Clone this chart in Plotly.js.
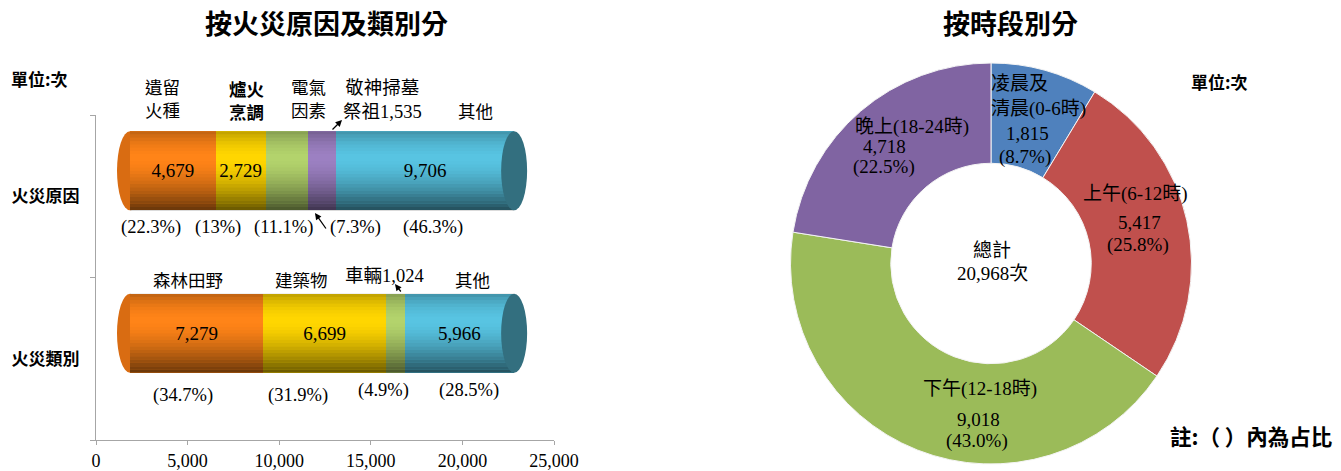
<!DOCTYPE html>
<html><head><meta charset="utf-8">
<script src="https://cdn.plot.ly/plotly-3.0.1.min.js"></script>
<style>html,body{margin:0;padding:0;background:#fff;}#chart{width:1341px;height:471px;}</style>
</head><body><div id="chart"></div>
<script>
// ---------- data ----------
const rowNames = ['火災類別', '火災原因'];
const reasonNames = ['遺留火種', '爐火烹調', '電氣因素', '敬神掃墓祭祖', '其他'];
const reasonValues = [4679, 2729, 2319, 1535, 9706];
const reasonPct = [22.3, 13, 11.1, 7.3, 46.3];
const typeNames = ['森林田野', '建築物', '車輛', '其他'];
const typeValues = [7279, 6699, 1024, 5966];
const typePct = [34.7, 31.9, 4.9, 28.5];
const periodNames = ['凌晨及清晨(0-6時)', '上午(6-12時)', '下午(12-18時)', '晚上(18-24時)'];
const periodValues = [1815, 5417, 9018, 4718];
const periodPct = [8.7, 25.8, 43.0, 22.5];
const xTicks = [0, 5000, 10000, 15000, 20000, 25000];

// ---------- styles ----------
const W = 1341, H = 471;
const PX = x => x / W, PY = y => 1 - y / H;
const SERIF = 'Liberation Serif, Noto Sans CJK TC, serif';
const CJK = 'Noto Sans CJK TC, sans-serif';
const reasonColors = ['#FF8418', '#FFD600', '#B3D36C', '#9C80C2', '#58C4E2'];
const typeColors = ['#FF8418', '#FFD600', '#B3D36C', '#58C4E2'];
const pieColors = ['#4F81BD', '#C0504D', '#9BBB59', '#8064A2'];
const fmt = v => v.toLocaleString('en-US');
const sum = a => a.reduce((s, v) => s + v, 0);

const plotX0 = 96, plotX1 = 554, plotY0 = 115, plotY1 = 440;
const depthPx = 34, liftPx = 25.5;           // 3-D offset of the cylinders
const unitPx = (plotX1 - plotX0) / 25000;
const catPx = (plotY1 - plotY0) / 2;

const traces = [];
// empty trace keeps the visible category/value axes alive
traces.push({type: 'scatter', mode: 'markers', x: [], y: [], xaxis: 'x', yaxis: 'y',
  hoverinfo: 'skip', showlegend: false});

function addSegments(names, values, colors, row) {
  names.forEach((n, i) => {
    traces.push({
      type: 'bar', orientation: 'h', xaxis: 'x2', yaxis: 'y2',
      y: [row], x: [values[i]], name: n, width: 0.486,
      marker: {color: colors[i], line: {width: 0}},
      text: [values[i] > 2500 ? fmt(values[i]) : ''],
      textposition: 'inside', insidetextanchor: 'middle',
      textfont: {family: SERIF, size: 19, color: '#000'},
      constraintext: 'none', hoverinfo: 'skip', showlegend: false
    });
  });
}
addSegments(reasonNames, reasonValues, reasonColors, '火災原因');
addSegments(typeNames, typeValues, typeColors, '火災類別');

traces.push({
  type: 'pie', labels: periodNames, values: periodValues, sort: false,
  direction: 'clockwise', rotation: 0, hole: 0.5,
  marker: {colors: pieColors, line: {color: '#f4f4f4', width: 1}},
  textinfo: 'none', hoverinfo: 'skip', showlegend: false,
  domain: {x: [PX(790), PX(1192)], y: [PY(464), PY(63)]}
});

// ---------- cylinder shading ----------
const shapes = [];
const nBands = 24;
const shade = t => t < 0.35 ? 0.26 * Math.pow(1 - t / 0.35, 2) : 0.6 * Math.pow((t - 0.35) / 0.65, 1.6);
function cylinder(rowIdx, total, leftColor) {
  const half = 0.243, capHalf = 13 / unitPx;
  shapes.push({type: 'circle', xref: 'x2', yref: 'y2', layer: 'below',
    x0: -capHalf, x1: capHalf, y0: rowIdx - half, y1: rowIdx + half,
    fillcolor: leftColor, line: {width: 0}});
  for (let k = 0; k < nBands; k++) {
    const op = shade((k + 0.5) / nBands);
    const yTop = rowIdx + half - (2 * half) * k / nBands;
    const yBot = rowIdx + half - (2 * half) * (k + 1) / nBands;
    if (op > 0.005) shapes.push({type: 'rect', xref: 'x2', yref: 'y2', layer: 'above',
      x0: 0, x1: total, y0: yBot, y1: yTop,
      fillcolor: 'rgba(0,0,0,' + op.toFixed(3) + ')', line: {width: 0}});
  }
  shapes.push({type: 'circle', xref: 'x2', yref: 'y2', layer: 'above',
    x0: total - capHalf, x1: total + capHalf, y0: rowIdx - half, y1: rowIdx + half,
    fillcolor: '#336F7F', line: {width: 0}});
}
cylinder(1, sum(reasonValues), '#D96C12');
cylinder(0, sum(typeValues), '#D96C12');

// ---------- annotations ----------
const ann = [];
function txt(text, x, y, o) {
  o = o || {};
  ann.push(Object.assign({xref: 'paper', yref: 'paper', x: PX(x), y: PY(y), text: text,
    showarrow: false, xanchor: 'center', yanchor: 'middle',
    font: {family: SERIF, size: 18.5, color: '#000'}}, o));
}
function arrow(hx, hy, tx, ty) {
  ann.push({xref: 'paper', yref: 'paper', x: PX(hx), y: PY(hy), ax: tx - hx, ay: ty - hy, text: '',
    showarrow: true, arrowhead: 2, arrowsize: 1, arrowwidth: 1.3, arrowcolor: '#000', standoff: 0, startstandoff: 0});
}
const cjkFont = {family: SERIF, size: 17.5, color: '#000'};
const cjkBold = {family: CJK, size: 17.5, color: '#000', weight: 'bold'};
const serifFont = {family: SERIF, size: 18.5, color: '#000'};

// titles & notes
txt('按火災原因及類別分', 326, 23, {font: {family: CJK, size: 27, weight: 'bold', color: '#000'}});
txt('按時段別分', 1010, 23, {font: {family: CJK, size: 27, weight: 'bold', color: '#000'}});
txt('單位:次', 9, 79, {xanchor: 'left', font: {family: CJK, size: 17, weight: 'bold', color: '#000'}});
txt('單位:次', 1189, 82, {xanchor: 'left', font: {family: CJK, size: 17, weight: 'bold', color: '#000'}});
txt('註:（ ）內為占比', 1334, 435, {xanchor: 'right', font: {family: CJK, size: 21.5, weight: 'bold', color: '#000'}});

// reason labels (two lines above the bar)
const rTopX = [162, 246, 308, 382, 475];
const rLines = [['遺留', '火種'], ['爐火', '烹調'], ['電氣', '因素'], ['敬神掃墓', '祭祖' + fmt(reasonValues[3])], [reasonNames[4]]];
rLines.forEach((l, i) => {
  if (l.length === 2) txt(l.join('<br>'), rTopX[i], 100, {font: i === 1 ? cjkBold : (i === 3 ? serifFont : cjkFont)});
  else txt(l[0], rTopX[i], 112, {font: cjkFont});
});
const rPctX = [151, 218, 283, 355, 433];
reasonPct.forEach((p, i) => txt('(' + p + '%)', rPctX[i], 227));
arrow(342, 120, 331, 131);
arrow(315, 213, 327, 230);

// type labels
const tTopX = [188, 301, 384, 472], tTopY = [281, 281, 276, 281];
typeNames.forEach((n, i) => txt(n + (typeValues[i] < 2500 ? fmt(typeValues[i]) : ''), tTopX[i], tTopY[i],
  {font: typeValues[i] < 2500 ? serifFont : cjkFont}));
const tPctX = [183, 298, 383, 469], tPctY = [395, 395, 390, 390];
typePct.forEach((p, i) => txt('(' + p + '%)', tPctX[i], tPctY[i]));
arrow(395, 284, 402, 293);

// pie labels
const pf = {family: SERIF, size: 19, color: '#000'};
const pct1 = p => '(' + p.toFixed(1) + '%)';
txt('凌晨及', 989, 84, {xanchor: 'left', font: pf});
txt('清晨(0-6時)', 989, 109, {xanchor: 'left', font: pf});
txt(fmt(periodValues[0]), 1027, 134, {font: pf});
txt(pct1(periodPct[0]), 1025, 157, {font: pf});
txt(periodNames[1], 1135, 194, {font: pf});
txt(fmt(periodValues[1]), 1139, 222, {font: pf});
txt(pct1(periodPct[1]), 1138, 245, {font: pf});
txt(periodNames[2], 980, 389, {font: pf});
txt(fmt(periodValues[2]), 978, 419, {font: pf});
txt(pct1(periodPct[2]), 977, 441, {font: pf});
txt(periodNames[3], 912, 127, {font: pf});
txt(fmt(periodValues[3]), 884, 147, {font: pf});
txt(pct1(periodPct[3]), 884, 167, {font: pf});
txt('總計', 992, 250, {font: pf});
txt(fmt(sum(periodValues)) + '次', 992, 273, {font: pf});

const xDom = [PX(plotX0), PX(plotX1)], yDom = [PY(plotY1), PY(plotY0)];
const shiftX = depthPx / unitPx, shiftY = liftPx / catPx;
const layout = {
  width: W, height: H, margin: {l: 0, r: 0, t: 0, b: 0},
  paper_bgcolor: '#fff', plot_bgcolor: 'rgba(0,0,0,0)',
  barmode: 'stack', showlegend: false,
  xaxis: {visible: true, domain: xDom, anchor: 'y', range: [0, 25000], tickvals: xTicks,
    ticktext: xTicks.map(fmt), showgrid: false, zeroline: false,
    showline: true, linecolor: '#a6a6a6', linewidth: 1, ticks: 'outside', ticklen: 4, tickcolor: '#a6a6a6',
    tickfont: {family: SERIF, size: 18, color: '#000'}, fixedrange: true},
  yaxis: {visible: true, domain: yDom, anchor: 'x', type: 'category', categoryorder: 'array', categoryarray: rowNames,
    range: [-0.5, 1.5], showgrid: false, zeroline: false, showline: true, linecolor: '#a6a6a6', linewidth: 1,
    ticks: 'outside', tickson: 'boundaries', ticklen: 5, tickcolor: '#a6a6a6', ticklabelstandoff: 12,
    tickfont: {family: CJK, size: 17, weight: 'bold', color: '#000'}, fixedrange: true},
  xaxis2: {overlaying: 'x', domain: xDom, anchor: 'y2', range: [-shiftX, 25000 - shiftX],
    visible: false, fixedrange: true},
  yaxis2: {overlaying: 'y', domain: yDom, anchor: 'x2', type: 'category', categoryorder: 'array', categoryarray: rowNames,
    range: [-0.5 - shiftY, 1.5 - shiftY], visible: false, fixedrange: true},
  shapes: shapes, annotations: ann
};
Plotly.newPlot('chart', traces, layout, {staticPlot: true});
</script></body></html>
